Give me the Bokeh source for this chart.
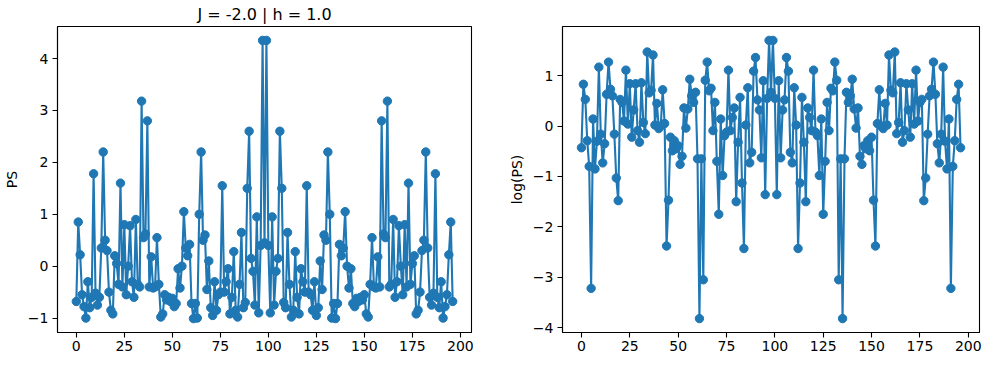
from bokeh.plotting import figure
from bokeh.layouts import row
from bokeh.models import FixedTicker, Range1d, CustomJSTickFormatter, ColumnDataSource
from bokeh.embed import file_html
from bokeh.resources import INLINE

# ---------------- data ----------------
title_text = "J = -2.0 | h = 1.0"
left_ylabel = "PS"
right_ylabel = "log(PS)"
x_ticks = [0, 25, 50, 75, 100, 125, 150, 175, 200]
left_yticks = [-1, 0, 1, 2, 3, 4]
right_yticks = [-4, -3, -2, -1, 0, 1]

# standardised power spectrum, indices 0..98
ps_first = [-0.68, 0.85, 0.22, -0.55, -0.78, -1.00, -0.30, -0.80, -0.60, 1.78,
            -0.52, -0.75, -0.60, 0.35, 2.20, 0.50, 0.30, -0.50, -0.85, -0.92,
            0.20, 0.05, -0.35, 1.60, -0.40, 0.80, -0.55, 0.00, 0.78, -0.30,
            -0.60, 0.90, -0.35, -0.40, 3.18, 0.55, 0.62, 2.80, -0.40, 0.18,
            -0.42, -0.40, 0.55, -0.35, -0.98, -0.92, -0.55, -0.65, -0.60, -0.68,
            -0.62, -0.78, -0.72, -0.05, -0.42, 0.00, 1.05, 0.35, 0.20, 0.42,
            -0.72, -1.01, -0.72, -1.00, 1.00, 2.20, 0.50, 0.60, -0.45, 0.10,
            -0.80, -0.95, -0.30, -0.85, -0.55, -0.50, 1.55, -0.50, -0.30, -0.05,
            -0.92, -0.60, 0.28, -0.85, -0.98, -0.35, 0.65, -0.80, -0.70, 1.50,
            2.60, 0.15, -0.10, -0.75, 0.95, -0.90, 0.40, 4.35, 0.45]
# indices 99..196
ps_second = [4.35, 0.40, -0.90, 0.95, -0.75, -0.10, 0.15, 2.60, 1.50, -0.70,
             -0.80, 0.65, -0.35, -0.98, -0.85, 0.28, -0.60, -0.92, -0.05, -0.30,
             -0.50, 1.55, -0.50, -0.55, -0.85, -0.30, -0.95, -0.80, 0.10, -0.45,
             0.60, 0.50, 2.20, 1.00, -1.00, -0.72, -1.01, -0.72, 0.42, 0.20,
             0.35, 1.05, 0.00, -0.42, -0.05, -0.72, -0.78, -0.62, -0.68, -0.60,
             -0.65, -0.55, -0.92, -0.98, -0.35, 0.55, -0.40, -0.42, 0.18, -0.40,
             2.80, 0.62, 0.55, 3.18, -0.40, -0.35, 0.90, -0.60, -0.30, 0.78,
             0.00, -0.55, 0.80, -0.40, 1.60, -0.35, 0.05, 0.20, -0.92, -0.85,
             -0.50, 0.30, 0.50, 2.20, 0.35, -0.60, -0.75, -0.52, 1.78, -0.60,
             -0.80, -0.30, -1.00, -0.78, -0.55, 0.22, 0.85, -0.68]

# log power spectrum, indices 0..98
logps_first = [-0.43, 0.83, 0.53, -0.29, -0.80, -3.22, 0.14, -0.85, -0.30, 1.17,
               -0.16, -0.73, -0.35, 0.63, 1.27, 0.73, 0.60, -0.16, -1.03, -1.48,
               0.53, 0.47, 0.10, 1.11, 0.04, 0.84, -0.22, 0.32, 0.84, -0.09,
               -0.32, 0.86, 0.07, -0.15, 1.47, 0.66, 0.71, 1.41, 0.02, 0.45,
               -0.05, 0.00, 0.72, 0.05, -2.38, -1.47, -0.22, -0.49, -0.29, -0.45,
               -0.39, -0.76, -0.60, 0.36, -0.04, 0.34, 0.93, 0.60, 0.47, 0.67,
               -0.65, -3.82, -0.65, -3.05, 0.91, 1.27, 0.70, 0.75, -0.09, 0.47,
               -0.70, -1.75, 0.14, -0.98, -0.19, -0.12, 1.11, -0.09, 0.17, 0.36,
               -1.50, -0.32, 0.57, -1.13, -2.43, 0.02, 0.76, -0.73, -0.52, 1.09,
               1.36, 0.52, 0.32, -0.63, 0.90, -1.36, 0.55, 1.70, 0.67]
# indices 99..196
logps_second = [1.70, 0.55, -1.36, 0.90, -0.63, 0.32, 0.52, 1.36, 1.09, -0.52,
                -0.73, 0.76, 0.02, -2.43, -1.13, 0.57, -0.32, -1.50, 0.36, 0.17,
                -0.09, 1.11, -0.12, -0.19, -0.98, 0.14, -1.75, -0.70, 0.47, -0.09,
                0.75, 0.70, 1.27, 0.91, -3.05, -0.65, -3.82, -0.65, 0.67, 0.47,
                0.60, 0.93, 0.34, -0.04, 0.36, -0.60, -0.76, -0.39, -0.45, -0.29,
                -0.49, -0.22, -1.47, -2.38, 0.05, 0.72, 0.00, -0.05, 0.45, 0.02,
                1.41, 0.71, 0.66, 1.47, -0.15, 0.07, 0.86, -0.32, -0.09, 0.84,
                0.32, -0.22, 0.84, 0.04, 1.11, 0.10, 0.47, 0.53, -1.48, -1.03,
                -0.16, 0.60, 0.73, 1.27, 0.63, -0.35, -0.73, -0.16, 1.17, -0.30,
                -0.85, 0.14, -3.22, -0.80, -0.29, 0.53, 0.83, -0.43]

ps_values = ps_first + ps_second
logps_values = logps_first + logps_second
assert len(ps_values) == len(logps_values), (len(ps_values), len(logps_values))
idx = list(range(len(ps_values)))

# ---------------- style ----------------
COLOR = "#1f77b4"
FONT = "DejaVu Sans"
minus_fmt = "return (tick < 0 ? '\\u2212' : '') + Math.abs(tick).toString();"


def padded(lo, hi, frac=0.05):
    span = hi - lo
    return lo - frac * span, hi + frac * span


def make_fig(values, yticks, ylabel, width, border_left, border_right, title=None):
    x0, x1 = padded(min(idx), max(idx))
    y0, y1 = padded(min(values), max(values))
    p = figure(width=width, height=358, output_backend="svg", toolbar_location=None,
               x_range=Range1d(x0, x1), y_range=Range1d(y0, y1),
               min_border_left=border_left, min_border_right=border_right,
               min_border_top=24, min_border_bottom=26,
               title=title)
    p.background_fill_color = "white"
    p.border_fill_color = "white"
    p.outline_line_color = "black"
    p.outline_line_width = 1.1
    p.grid.visible = False
    if title is not None:
        p.title.align = "center"
        p.title.text_font = FONT
        p.title.text_font_size = "16px"
        p.title.text_font_style = "normal"
        p.title.text_color = "black"
        p.title.standoff = 5
    for ax in (p.xaxis[0], p.yaxis[0]):
        ax.axis_line_color = "black"
        ax.axis_line_width = 1.1
        ax.major_tick_line_color = "black"
        ax.major_tick_line_width = 1.1
        ax.major_tick_out = 5
        ax.major_tick_in = 0
        ax.minor_tick_line_color = None
        ax.major_label_text_font = FONT
        ax.major_label_text_font_size = "14px"
        ax.major_label_text_color = "black"
        ax.major_label_standoff = 4
        ax.axis_label_text_font = FONT
        ax.axis_label_text_font_size = "14px"
        ax.axis_label_text_font_style = "normal"
        ax.axis_label_text_color = "black"
        ax.formatter = CustomJSTickFormatter(code=minus_fmt)
    p.xaxis[0].ticker = FixedTicker(ticks=x_ticks)
    p.xaxis[0].major_label_standoff = 3
    p.yaxis[0].ticker = FixedTicker(ticks=yticks)
    p.yaxis[0].axis_label = ylabel
    p.yaxis[0].axis_label_standoff = 5

    src = ColumnDataSource(dict(x=idx, y=values))
    p.line("x", "y", source=src, line_color=COLOR, line_width=2.1)
    p.scatter("x", "y", source=src, marker="circle", size=8.4,
              fill_color=COLOR, line_color=COLOR, line_width=1)
    return p


p_left = make_fig(ps_values, left_yticks, left_ylabel, width=505,
                  border_left=52, border_right=34, title=title_text)
p_right = make_fig(logps_values, right_yticks, right_ylabel, width=478,
                   border_left=55, border_right=4)

layout = row(p_left, p_right)
with open("out.html", "w", encoding="utf-8") as f:
    f.write(file_html(layout, INLINE))
